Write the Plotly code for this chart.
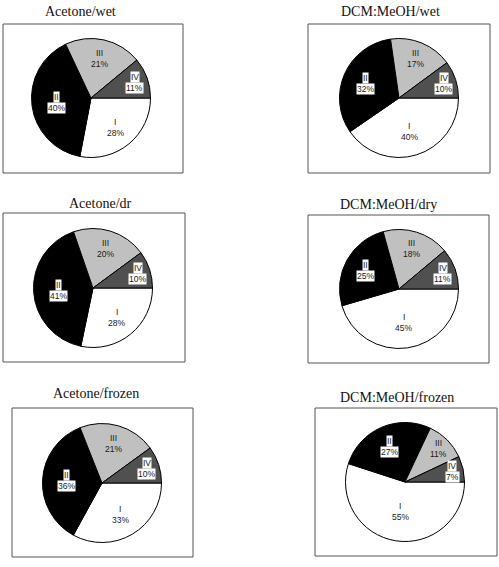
import math
import plotly.graph_objects as go

W, H = 499, 567

categories = ["I", "II", "III", "IV"]
titles = ["Acetone/wet", "DCM:MeOH/wet", "Acetone/dr", "DCM:MeOH/dry",
          "Acetone/frozen", "DCM:MeOH/frozen"]
acetone_wet = [28, 40, 21, 11]
dcm_wet = [40, 32, 17, 10]
acetone_dry = [28, 41, 20, 10]
dcm_dry = [45, 25, 18, 11]
acetone_frozen = [33, 36, 21, 10]
dcm_frozen = [55, 27, 11, 7]
series = [acetone_wet, dcm_wet, acetone_dry, dcm_dry, acetone_frozen, dcm_frozen]

colors = ["#ffffff", "#000000", "#c0c0c0", "#505050"]
boxed = [False, True, False, True]

# layout (pixels)
pie_centers = [(91, 98), (399, 98), (93, 288), (399, 289), (102, 483), (405, 482)]
radius = 59.5
boxes = [(3, 24, 183, 173), (308, 24, 490, 173), (3, 213, 185, 362),
         (308, 215, 489, 363), (12, 408, 193, 557), (315, 408, 497, 556)]
title_pos = [(80, 11), (390, 11), (100, 203), (388, 204), (96, 393), (397, 397)]

def px(x):
    return x / W

def py(y):
    return 1 - y / H

def label_radius(frac):
    quad = 0.93 - 1.5 * frac + 1.6 * frac ** 2
    lin = 0.86 - 0.65 * frac
    return min(quad, lin)

fig = go.Figure()
shapes = []
annotations = []

for i, vals in enumerate(series):
    cx, cy = pie_centers[i]
    fig.add_trace(go.Pie(
        labels=categories, values=vals, sort=False, direction="clockwise",
        rotation=90, textinfo="none", hoverinfo="label+percent",
        marker=dict(colors=colors, line=dict(color="#000000", width=1)),
        domain=dict(x=[px(cx - radius), px(cx + radius)],
                    y=[py(cy + radius), py(cy - radius)]),
        showlegend=False,
    ))
    x0, y0, x1, y1 = boxes[i]
    shapes.append(dict(type="rect", xref="paper", yref="paper",
                       x0=px(x0), x1=px(x1), y0=py(y1), y1=py(y0),
                       line=dict(color="#555555", width=1), layer="below"))
    tx, ty = title_pos[i]
    annotations.append(dict(text=titles[i], x=px(tx), y=py(ty), xref="paper", yref="paper",
                            showarrow=False, xanchor="center", yanchor="middle",
                            font=dict(family="Liberation Serif, Times New Roman, serif",
                                      size=14, color="#111111")))
    total = sum(vals)
    cum = 0
    for j, v in enumerate(vals):
        frac = v / total
        mid = (cum + v / 2) / total
        cum += v
        theta = -2 * math.pi * mid  # clockwise from 3 o'clock
        k = label_radius(frac)
        lx = cx + k * radius * math.cos(theta)
        ly = cy - k * radius * math.sin(theta)
        for line_text, dy in ((categories[j], -5.5), (f"{v}%", 5.5)):
            ann = dict(text=line_text, x=px(lx), y=py(ly + dy), xref="paper", yref="paper",
                       showarrow=False, xanchor="center", yanchor="middle",
                       font=dict(family="Arial, Liberation Sans, sans-serif", size=8.5,
                                 color="#1a1a1a"), borderpad=0)
            if boxed[j]:
                ann["bgcolor"] = "#ffffff"
            annotations.append(ann)

fig.update_layout(width=W, height=H, margin=dict(l=0, r=0, t=0, b=0),
                  paper_bgcolor="#ffffff", plot_bgcolor="#ffffff",
                  shapes=shapes, annotations=annotations)
fig.write_html("out.html")
